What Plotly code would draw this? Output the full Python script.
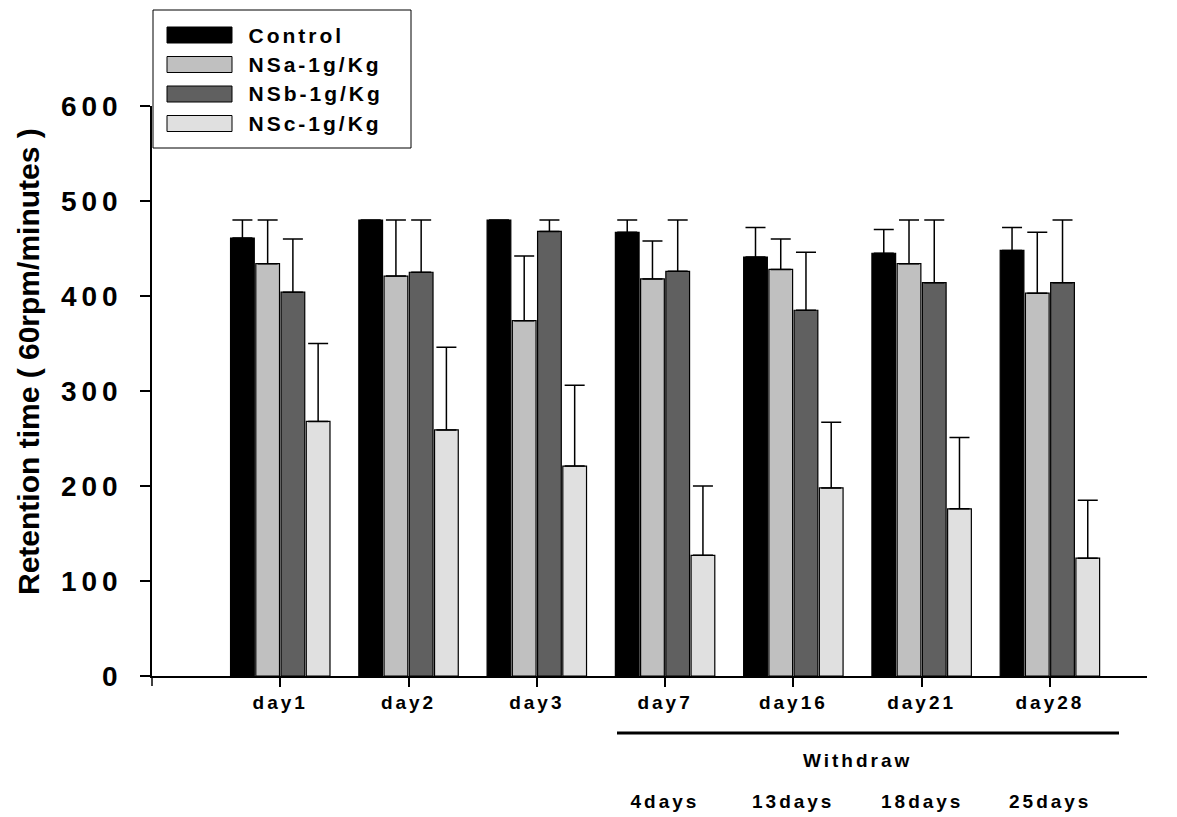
import plotly.graph_objects as go

# Retention time on the rotarod (mean with upper SD) per group and test day
days = ["day1", "day2", "day3", "day7", "day16", "day21", "day28"]
withdraw_labels = ["4days", "13days", "18days", "25days"]
withdraw_days = ["day7", "day16", "day21", "day28"]

groups = ["Control", "NSa-1g/Kg", "NSb-1g/Kg", "NSc-1g/Kg"]
control = [461, 480, 480, 467, 441, 445, 448]
control_sd = [19, 0, 0, 13, 31, 25, 24]
nsa = [434, 421, 374, 418, 428, 434, 403]
nsa_sd = [46, 59, 68, 40, 32, 46, 64]
nsb = [404, 425, 468, 426, 385, 414, 414]
nsb_sd = [56, 55, 12, 54, 61, 66, 66]
nsc = [268, 259, 221, 127, 198, 176, 124]
nsc_sd = [82, 87, 85, 73, 69, 75, 61]

y_ticks = [0, 100, 200, 300, 400, 500, 600]

values = [control, nsa, nsb, nsc]
errors = [control_sd, nsa_sd, nsb_sd, nsc_sd]
fills = ["#000000", "#c0c0c0", "#606060", "#e0e0e0"]

FONT = "Arial, 'Liberation Sans', sans-serif"
W, H = 1177, 817
ML, MR, MT, MB = 152, 30, 106, 141
PW, PH = W - ML - MR, H - MT - MB
SPACING = 3  # letter spacing (px) applied to labels after drawing


def px_x(px):
    return (px - ML) / PW


def px_y(py):
    return (H - MB - py) / PH


fig = go.Figure()
for name, vals, err, col in zip(groups, values, errors, fills):
    fig.add_trace(go.Bar(
        x=days, y=vals, name=name, showlegend=False,
        marker=dict(color=col, line=dict(color="black", width=1.2)),
        error_y=dict(type="data", symmetric=False, array=err,
                     arrayminus=[0] * len(err), color="black",
                     thickness=1.5, width=10),
    ))

shapes = []
annotations = []

# y-axis title (index 0: kept without letter spacing)
annotations.append(dict(
    text="Retention time ( 60rpm/minutes )", xref="paper", yref="paper",
    x=px_x(28), y=px_y(362), textangle=-90, showarrow=False,
    xanchor="center", yanchor="middle",
    font=dict(family=FONT, size=30, color="black", weight="bold"),
))

# legend box with wide swatches
shapes.append(dict(type="rect", xref="paper", yref="paper",
                   x0=px_x(153), x1=px_x(411), y0=px_y(148), y1=px_y(10),
                   line=dict(color="black", width=1), fillcolor="white"))
for i, (name, col) in enumerate(zip(groups, fills)):
    cy = 35 + 29.5 * i
    shapes.append(dict(type="rect", xref="paper", yref="paper",
                       x0=px_x(167), x1=px_x(232), y0=px_y(cy + 8), y1=px_y(cy - 8),
                       line=dict(color="black", width=1), fillcolor=col))
    # spaced text grows about its centre, so shift left-anchored labels
    annotations.append(dict(
        text=name, xref="paper", yref="paper",
        x=px_x(246 + len(name) * SPACING / 2), y=px_y(cy),
        xanchor="left", yanchor="middle", showarrow=False,
        font=dict(family=FONT, size=21, color="black", weight="bold"),
    ))

# withdrawal period bracket and labels
shapes.append(dict(type="line", xref="paper", yref="paper",
                   x0=px_x(617), x1=px_x(1119), y0=px_y(733), y1=px_y(733),
                   line=dict(color="black", width=3)))
annotations.append(dict(
    text="Withdraw", xref="paper", yref="paper", x=px_x(858), y=px_y(760),
    xanchor="center", yanchor="middle", showarrow=False,
    font=dict(family=FONT, size=19, color="black", weight="bold"),
))
for d, lab in zip(withdraw_days, withdraw_labels):
    annotations.append(dict(
        text=lab, xref="x", yref="paper", x=d, y=px_y(801),
        xanchor="center", yanchor="middle", showarrow=False,
        font=dict(family=FONT, size=19, color="black", weight="bold"),
    ))

# short extension of the y axis below the baseline
shapes.append(dict(type="line", xref="paper", yref="paper",
                   x0=0, x1=0, y0=0, y1=px_y(686),
                   line=dict(color="black", width=1.5)))

fig.update_layout(
    width=W, height=H, autosize=False,
    margin=dict(l=ML, r=MR, t=MT, b=MB, pad=0),
    paper_bgcolor="white", plot_bgcolor="white",
    barmode="group", bargap=0.213, bargroupgap=0.06,
    shapes=shapes, annotations=annotations,
    showlegend=False,
    xaxis=dict(
        type="category", categoryorder="array", categoryarray=days,
        range=[-1.0, 6.757], showline=True, linecolor="black", linewidth=1.5,
        ticks="outside", ticklen=9, tickwidth=1.5, tickcolor="black",
        showgrid=False, zeroline=False, ticklabelstandoff=-1,
        tickfont=dict(family=FONT, size=19, color="black", weight="bold"),
    ),
    yaxis=dict(
        range=[0, 600], tickvals=y_ticks, showline=True, linecolor="black",
        linewidth=1.5, ticks="outside", ticklen=10, tickwidth=1.5,
        tickcolor="black", showgrid=False, zeroline=False,
        ticklabelstandoff=12,
        tickfont=dict(family=FONT, size=28, color="black", weight="bold"),
    ),
)

spacing_js = """
var gd = document.getElementById('{plot_id}');
function spaceText() {
  gd.querySelectorAll('.xtick text').forEach(function (t) { t.style.letterSpacing = '3px'; });
  gd.querySelectorAll('.ytick text').forEach(function (t) { t.style.letterSpacing = '5px'; });
  gd.querySelectorAll('.annotation').forEach(function (a) {
    if (a.getAttribute('data-index') !== '0') {
      var t = a.querySelector('text');
      if (t) { t.style.letterSpacing = '3px'; }
    }
  });
}
spaceText();
gd.on('plotly_afterplot', spaceText);
"""

fig.write_html("out.html", post_script=spacing_js)
